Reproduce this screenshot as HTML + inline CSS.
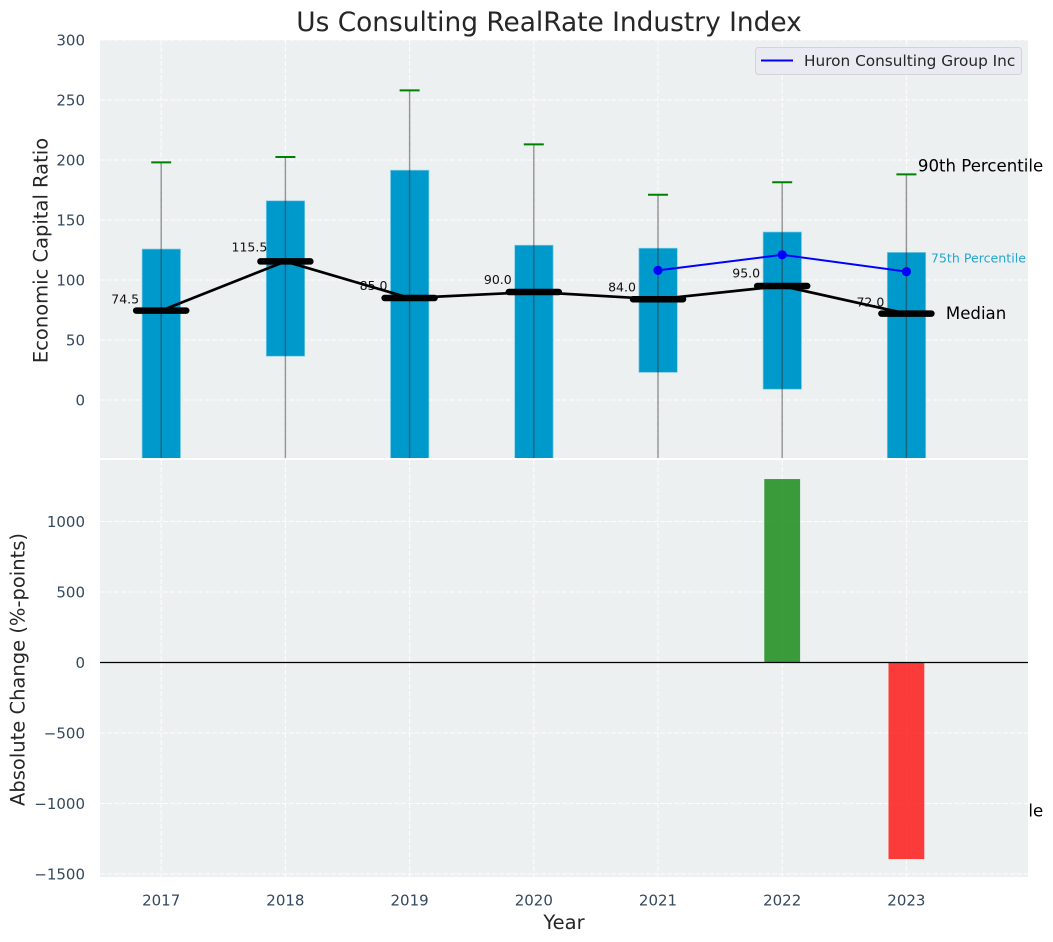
<!DOCTYPE html>
<html lang="en">
<head>
<meta charset="utf-8">
<title>Us Consulting RealRate Industry Index</title>
<style>
html,body{margin:0;padding:0;background:#fff;width:1053px;height:942px;overflow:hidden}
svg{display:block;font-family:"DejaVu Sans","Liberation Sans",sans-serif}
</style>
</head>
<body>
<svg id="chart" xmlns="http://www.w3.org/2000/svg" width="1053" height="942" viewBox="0 0 1053 942">
  <defs>
    <clipPath id="top-clip"><rect x="100" y="40" width="928" height="418"/></clipPath>
    <clipPath id="bottom-clip"><rect x="100" y="460" width="928" height="417"/></clipPath>
  </defs>
  <text x="549" y="31" font-size="26.4px" text-anchor="middle" fill="#262626">Us Consulting RealRate Industry Index</text>
  <rect x="100" y="40" width="928" height="418" fill="#ecf0f1"/>
  <g id="top-grid"></g>
  <g id="bottom-label-layer"></g>
  <g id="top-marks" clip-path="url(#top-clip)"></g>
  <g id="top-annotations"></g>
  <rect x="100" y="458" width="928" height="2" fill="#ffffff"/>
  <rect x="100" y="460" width="928" height="417" fill="#ecf0f1"/>
  <g id="bottom-grid"></g>
  <g id="bottom-marks" clip-path="url(#bottom-clip)"></g>
  <g id="ticks"></g>
  <text transform="translate(47.5,250.5) rotate(-90)" font-size="19.5px" text-anchor="middle" fill="#262626">Economic Capital Ratio</text>
  <text transform="translate(24.5,669.5) rotate(-90)" font-size="19.5px" text-anchor="middle" fill="#262626">Absolute Change (%-points)</text>
  <text x="564" y="929" font-size="19.5px" text-anchor="middle" fill="#262626">Year</text>
  <g>
    <rect x="755.5" y="47.5" width="266" height="27" rx="3" fill="#eaeaf2" stroke="#d3d3d8" stroke-width="1"/>
    <line x1="761" y1="60.5" x2="793" y2="60.5" stroke="#0000ff" stroke-width="2"/>
    <text x="804" y="66" font-size="15.3px" fill="#262626">Huron Consulting Group Inc</text>
  </g>
</svg>
<script>
// Chart data
var years = [2017, 2018, 2019, 2020, 2021, 2022, 2023];
var p90 = [198, 202.5, 258, 213, 171, 181.5, 188];
var p75 = [125.8, 166, 191.5, 129, 126.5, 140, 123];
var median = [74.5, 115.5, 85, 90, 84, 95, 72];
var p25 = [-80, 36.5, -90, -70, 23, 9, -75];
var p10 = [-200, -150, -250, -220, -120, -130, -342];
var huronYears = [2021, 2022, 2023];
var huronValues = [108, 121, 107];
var changeYears = [2022, 2023];
var changeValues = [1301, -1394];
var topTicks = [0, 50, 100, 150, 200, 250, 300];
var bottomTicks = [-1500, -1000, -500, 0, 500, 1000];

var NS = 'http://www.w3.org/2000/svg';
function xAxis(year) { return 161.2 + (year - 2017) * 124.2; }
function yTop(v) { return 400 - v * 1.2; }
function yBottom(v) { return 662.5 - v * 0.141; }
function make(parent, tag, attrs, text) {
  var el = document.createElementNS(NS, tag);
  for (var k in attrs) { el.setAttribute(k, attrs[k]); }
  if (text !== undefined) { el.textContent = text; }
  parent.appendChild(el);
  return el;
}
var topGrid = document.getElementById('top-grid');
var bottomGrid = document.getElementById('bottom-grid');
var topMarks = document.getElementById('top-marks');
var bottomMarks = document.getElementById('bottom-marks');
var ticks = document.getElementById('ticks');
var annotations = document.getElementById('top-annotations');
var hiddenLayer = document.getElementById('bottom-label-layer');
var gridStyle = { stroke: '#ffffff', 'stroke-width': 1.1, 'stroke-dasharray': '5 2', 'stroke-opacity': 0.85 };
function withGrid(a) { for (var k in gridStyle) { a[k] = gridStyle[k]; } return a; }

// Grid + tick labels
years.forEach(function (yr) {
  var x = xAxis(yr);
  var g1 = make(topGrid, 'line', withGrid({ x1: x, x2: x, y1: 40, y2: 458 }));
  
  
  var g2 = make(bottomGrid, 'line', withGrid({ x1: x, x2: x, y1: 460, y2: 877 }));
  
  
  var t = make(ticks, 'text', { x: x, y: 905.5, 'font-size': '15px', 'text-anchor': 'middle', fill: '#34495e' }, String(yr));
  
  
});
topTicks.forEach(function (v) {
  var y = yTop(v);
  var g = make(topGrid, 'line', withGrid({ x1: 100, x2: 1028, y1: y, y2: y }));
  
  
  var t = make(ticks, 'text', { x: 85, y: y + 5.5, 'font-size': '15px', 'text-anchor': 'end', fill: '#34495e' }, String(v));
  
  
});
bottomTicks.forEach(function (v) {
  var y = yBottom(v);
  var g = make(bottomGrid, 'line', withGrid({ x1: 100, x2: 1028, y1: y, y2: y }));
  
  
  var t = make(ticks, 'text', { x: 85, y: y + 5.5, 'font-size': '15px', 'text-anchor': 'end', fill: '#34495e' }, String(v).replace('-', '\u2212'));
  
  
});

// Boxes (25th to 75th percentile)
years.forEach(function (yr, i) {
  var y1 = yTop(p75[i]);
  var y2 = yTop(p25[i]);
  var box = make(topMarks, 'rect', { x: xAxis(yr) + 0.1 - 19.2, y: y1, width: 38.4, height: y2 - y1, fill: '#0099cc', stroke: '#7fcce6', 'stroke-width': 0.7 });
  
  
});

// Median value labels (beneath the lines)
years.forEach(function (yr, i) {
  var lab = make(topMarks, 'text', { x: xAxis(yr) - 36, y: yTop(median[i] * 1.054 + 5.8) + 4.6, 'font-size': '12.5px', 'text-anchor': 'middle', fill: '#111111' }, median[i].toFixed(1));
  
  
});

// Whiskers and caps
years.forEach(function (yr, i) {
  var x = xAxis(yr);
  var w = make(topMarks, 'line', { x1: x, x2: x, y1: yTop(p90[i]), y2: yTop(p10[i]), stroke: '#303030', 'stroke-opacity': 0.5, 'stroke-width': 1.4 });
  
  
  var c = make(topMarks, 'line', { x1: x - 10, x2: x + 10, y1: yTop(p90[i]), y2: yTop(p90[i]), stroke: '#008000', 'stroke-width': 2 });
  
  
});

// Median connecting line and thick median marks
var medianPts = years.map(function (yr, i) { return xAxis(yr) + ',' + yTop(median[i]); }).join(' ');
var medianLine = make(topMarks, 'polyline', { points: medianPts, fill: 'none', stroke: '#000000', 'stroke-width': 2.7 });


years.forEach(function (yr, i) {
  var x = xAxis(yr);
  var m = make(topMarks, 'line', { x1: x - 25, x2: x + 25, y1: yTop(median[i]), y2: yTop(median[i]), stroke: '#000000', 'stroke-width': 6.5, 'stroke-linecap': 'round' });
  
  
});

// Huron series
var huronPts = huronYears.map(function (yr, i) { return xAxis(yr) + ',' + yTop(huronValues[i]); }).join(' ');
var huronLine = make(topMarks, 'polyline', { points: huronPts, fill: 'none', stroke: '#0000ff', 'stroke-width': 2 });


huronYears.forEach(function (yr, i) {
  var pt = make(topMarks, 'circle', { cx: xAxis(yr), cy: yTop(huronValues[i]), r: 4.6, fill: '#0000ff' });
  
  
});

// Percentile annotations anchored to the last year
var last = years.length - 1;
var lastX = xAxis(years[last]);
var a90 = make(annotations, 'text', { x: lastX + 11.5, y: yTop(p90[last]) - 3, 'font-size': '16.6px', fill: '#000000' }, '90th Percentile');


var a75 = make(annotations, 'text', { x: lastX + 24.5, y: yTop(p75[last]) + 10, 'font-size': '12.6px', fill: '#0099cc', 'fill-opacity': 0.85 }, '75th Percentile');


var aMed = make(annotations, 'text', { x: lastX + 39.5, y: yTop(median[last]) + 5.5, 'font-size': '16.6px', fill: '#000000' }, 'Median');


var a10 = make(hiddenLayer, 'text', { x: lastX + 11.5, y: yTop(p10[last]) + 6, 'font-size': '16.6px', fill: '#000000' }, '10th Percentile');



// Bottom panel bars
changeYears.forEach(function (yr, i) {
  var v = changeValues[i];
  var y0 = yBottom(0);
  var yv = yBottom(v);
  var bar = make(bottomMarks, 'rect', { x: xAxis(yr) - 17.9, y: Math.min(y0, yv), width: 35.8, height: Math.abs(yv - y0), fill: v >= 0 ? '#008000' : '#ff0000', 'fill-opacity': 0.76 });
  
  
});
var zero = make(bottomMarks, 'line', { x1: 100, x2: 1028, y1: yBottom(0), y2: yBottom(0), stroke: '#000000', 'stroke-width': 1.2 });


</script>
</body>
</html>
